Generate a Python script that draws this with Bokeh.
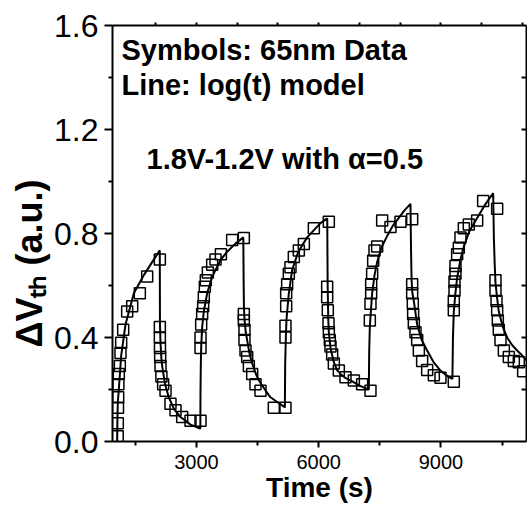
from bokeh.plotting import figure
from bokeh.models import Range1d, FixedTicker, LinearAxis, Label, PrintfTickFormatter
from bokeh.embed import file_html
from bokeh.resources import INLINE

# ---------------- data ----------------
# model line, one list per stress / recovery phase (time in s, dVth in a.u.)
s1_t = [1054, 1060, 1070, 1095, 1153, 1259, 1464, 1709, 1913, 2100]
s1_v = [0.0, 0.08, 0.15, 0.20, 0.33, 0.45, 0.57, 0.64, 0.69, 0.735]
r1_t = [2105, 2118, 2140, 2159, 2230, 2322, 2450, 2609, 2854, 3090]
r1_v = [0.45, 0.38, 0.32, 0.29, 0.22, 0.17, 0.125, 0.094, 0.065, 0.05]
s2_t = [3095, 3100, 3108, 3116, 3140, 3181, 3263, 3380, 3468, 3600, 3754, 3950, 4150]
s2_v = [0.05, 0.20, 0.30, 0.36, 0.44, 0.50, 0.57, 0.63, 0.66, 0.70, 0.73, 0.76, 0.785]
r2_t = [4158, 4165, 4179, 4210, 4245, 4300, 4368, 4470, 4572, 4700, 4817, 5000, 5165]
r2_v = [0.62, 0.52, 0.47, 0.42, 0.39, 0.34, 0.30, 0.255, 0.225, 0.195, 0.17, 0.15, 0.132]
s3_t = [5170, 5178, 5194, 5210, 5267, 5349, 5500, 5717, 6044, 6210]
s3_v = [0.13, 0.30, 0.40, 0.47, 0.57, 0.66, 0.73, 0.785, 0.84, 0.858]
r3_t = [6220, 6235, 6249, 6290, 6372, 6450, 6535, 6650, 6781, 7000, 7225]
r3_v = [0.60, 0.47, 0.42, 0.36, 0.305, 0.275, 0.26, 0.245, 0.235, 0.215, 0.20]
s4_t = [7230, 7240, 7255, 7271, 7312, 7370, 7435, 7550, 7680, 7820, 7967, 8110, 8253]
s4_v = [0.20, 0.35, 0.44, 0.48, 0.57, 0.64, 0.69, 0.75, 0.79, 0.83, 0.86, 0.89, 0.914]
r4_t = [8265, 8280, 8300, 8335, 8417, 8530, 8662, 8820, 8989, 9130, 9275]
r4_v = [0.75, 0.62, 0.57, 0.54, 0.45, 0.39, 0.35, 0.305, 0.273, 0.255, 0.241]
s5_t = [9282, 9295, 9316, 9355, 9398, 9480, 9562, 9700, 9889, 10080, 10282]
s5_v = [0.24, 0.40, 0.50, 0.57, 0.63, 0.70, 0.75, 0.81, 0.86, 0.91, 0.955]
r5_t = [10300, 10320, 10339, 10380, 10420, 10520, 10625, 10750, 10870, 11000, 11116]
r5_v = [0.78, 0.68, 0.61, 0.55, 0.50, 0.44, 0.40, 0.37, 0.35, 0.33, 0.31]

# measured 65nm data (symbols)
d1_t = [1068, 1070, 1075, 1080, 1085, 1095, 1120, 1136, 1153, 1202, 1300, 1423, 1611, 1791, 2102]
d1_v = [0.02, 0.07, 0.13, 0.17, 0.22, 0.26, 0.29, 0.34, 0.38, 0.43, 0.50, 0.52, 0.57, 0.635, 0.70]
d2_t = [2102, 2102, 2105, 2110, 2118, 2140, 2183, 2241, 2363, 2486, 2650, 2854, 3100]
d2_v = [0.44, 0.40, 0.36, 0.325, 0.29, 0.25, 0.22, 0.195, 0.145, 0.12, 0.094, 0.08, 0.08]
d3_t = [3100, 3100, 3116, 3140, 3165, 3181, 3206, 3230, 3280, 3386, 3468, 3600, 3877, 4163]
d3_v = [0.36, 0.40, 0.45, 0.49, 0.52, 0.555, 0.595, 0.62, 0.65, 0.68, 0.70, 0.72, 0.775, 0.783]
d4_t = [4163, 4163, 4179, 4179, 4204, 4245, 4286, 4368, 4449, 4572, 4899, 5185]
d4_v = [0.49, 0.465, 0.43, 0.39, 0.35, 0.325, 0.29, 0.26, 0.22, 0.195, 0.13, 0.13]
d5_t = [5185, 5185, 5202, 5202, 5226, 5267, 5308, 5390, 5513, 5636, 5881, 6249]
d5_v = [0.40, 0.445, 0.52, 0.57, 0.605, 0.645, 0.67, 0.71, 0.735, 0.76, 0.82, 0.845]
d6_t = [6208, 6208, 6224, 6241, 6249, 6273, 6290, 6331, 6372, 6494, 6658, 6863, 7067, 7271]
d6_v = [0.595, 0.555, 0.505, 0.455, 0.42, 0.39, 0.365, 0.335, 0.30, 0.273, 0.247, 0.235, 0.22, 0.195]
d7_t = [7255, 7271, 7288, 7288, 7312, 7337, 7370, 7435, 7558, 7762, 8008, 8294]
d7_v = [0.465, 0.53, 0.57, 0.605, 0.645, 0.695, 0.735, 0.75, 0.85, 0.825, 0.845, 0.855]
d8_t = [8294, 8294, 8310, 8318, 8335, 8376, 8417, 8458, 8539, 8662, 8826, 8989, 9316]
d8_v = [0.605, 0.57, 0.53, 0.49, 0.455, 0.42, 0.39, 0.35, 0.31, 0.275, 0.255, 0.245, 0.23]
d9_t = [9316, 9316, 9333, 9333, 9357, 9357, 9398, 9439, 9480, 9562, 9684, 9889, 10036, 10380]
d9_v = [0.505, 0.54, 0.58, 0.615, 0.645, 0.675, 0.72, 0.745, 0.785, 0.82, 0.835, 0.85, 0.925, 0.895]
d10_t = [10339, 10339, 10364, 10380, 10396, 10420, 10462, 10544, 10666, 10789, 10911, 11018]
d10_v = [0.62, 0.58, 0.54, 0.505, 0.465, 0.43, 0.39, 0.35, 0.325, 0.31, 0.305, 0.27]

x_ticks = [3000, 6000, 9000]
x_minor = [1500, 4500, 7500, 10500]
y_ticks = [0.0, 0.4, 0.8, 1.2, 1.6]
y_minor = [0.2, 0.6, 1.0, 1.4]
top_ticks = [2000, 3000, 4000, 5000, 6000, 7000, 8000, 9000, 10000, 11000]
right_ticks = [0.2, 0.4, 0.6, 0.8, 1.0, 1.2, 1.4]

line_t = s1_t + r1_t + s2_t + r2_t + s3_t + r3_t + s4_t + r4_t + s5_t + r5_t
line_v = s1_v + r1_v + s2_v + r2_v + s3_v + r3_v + s4_v + r4_v + s5_v + r5_v
data_t = d1_t + d2_t + d3_t + d4_t + d5_t + d6_t + d7_t + d8_t + d9_t + d10_t
data_v = d1_v + d2_v + d3_v + d4_v + d5_v + d6_v + d7_v + d8_v + d9_v + d10_v

FONT = "Liberation Sans"
W, H = 527, 510
FL, FR, FT, FB = 112, 526, 25, 441   # frame edges in canvas pixels

p = figure(width=W, height=H, output_backend="svg", toolbar_location=None,
           x_range=Range1d(940, 11100), y_range=Range1d(0, 1.6),
           x_axis_location=None, y_axis_location=None,
           min_border_left=FL, min_border_right=W - FR,
           min_border_top=FT, min_border_bottom=H - FB)
p.grid.visible = False
p.outline_line_color = None
p.background_fill_color = "white"
p.border_fill_color = "white"

def style_axis(ax):
    ax.axis_line_width = 2
    ax.axis_line_color = "black"
    ax.major_tick_line_width = 2
    ax.minor_tick_line_width = 2
    ax.major_tick_line_color = "black"
    ax.minor_tick_line_color = "black"
    ax.major_label_text_font = FONT
    ax.major_label_text_color = "black"
    ax.axis_label_text_font = FONT
    ax.axis_label_text_font_style = "bold"
    ax.axis_label_text_color = "black"

xa = LinearAxis(ticker=FixedTicker(ticks=x_ticks, minor_ticks=x_minor))
style_axis(xa)
xa.major_label_text_font_size = "20px"
xa.major_tick_out, xa.major_tick_in = 6, 0
xa.minor_tick_out, xa.minor_tick_in = 4, 0
xa.major_label_standoff = 7
xa.axis_label = "Time (s)"
xa.axis_label_text_font_size = "28px"
xa.axis_label_standoff = 0
p.add_layout(xa, "below")

ya = LinearAxis(ticker=FixedTicker(ticks=y_ticks, minor_ticks=y_minor),
                formatter=PrintfTickFormatter(format="%.1f"))
style_axis(ya)
ya.major_label_text_font_size = "32px"
ya.major_tick_out, ya.major_tick_in = 8, 0
ya.minor_tick_out, ya.minor_tick_in = 4, 0
ya.major_label_standoff = 6
ya.axis_label = "\u0394V\u209c\u2095 (a.u.)" + "\u00a0" * 6
ya.axis_label_text_font_size = "36px"
ya.axis_label_standoff = 1
p.add_layout(ya, "left")

# mirrored top / right axes: tick marks only, no labels
ta = LinearAxis(ticker=FixedTicker(ticks=[], minor_ticks=top_ticks))
style_axis(ta)
ta.minor_tick_out, ta.minor_tick_in = 3, 0
ta.major_label_standoff = 0
p.add_layout(ta, "above")

ra = LinearAxis(ticker=FixedTicker(ticks=[], minor_ticks=right_ticks))
style_axis(ra)
ra.minor_tick_out, ra.minor_tick_in = 0, 5
ra.major_label_standoff = 0
p.add_layout(ra, "right")

p.line(line_t, line_v, line_color="black", line_width=2)
p.scatter(data_t, data_v, marker="square", size=11, fill_color=None,
          line_color="black", line_width=1.5)

def label(text, cx, cy, size):
    # cx, cy: canvas pixel position (from top-left) -> frame-relative screen units
    p.add_layout(Label(x=cx - FL, y=FB - cy, x_units="screen", y_units="screen",
                       text=text, text_font=FONT, text_font_size=size,
                       text_font_style="bold", text_color="black",
                       text_align="left", text_baseline="alphabetic"))

label("Symbols: 65nm Data", 121, 49, "29px")
label("Line: log(t) model", 121, 84, "29px")
label("1.8V-1.2V with \u03b1=0.5", 146, 158, "29px")

open("out.html", "w").write(file_html(p, INLINE))
